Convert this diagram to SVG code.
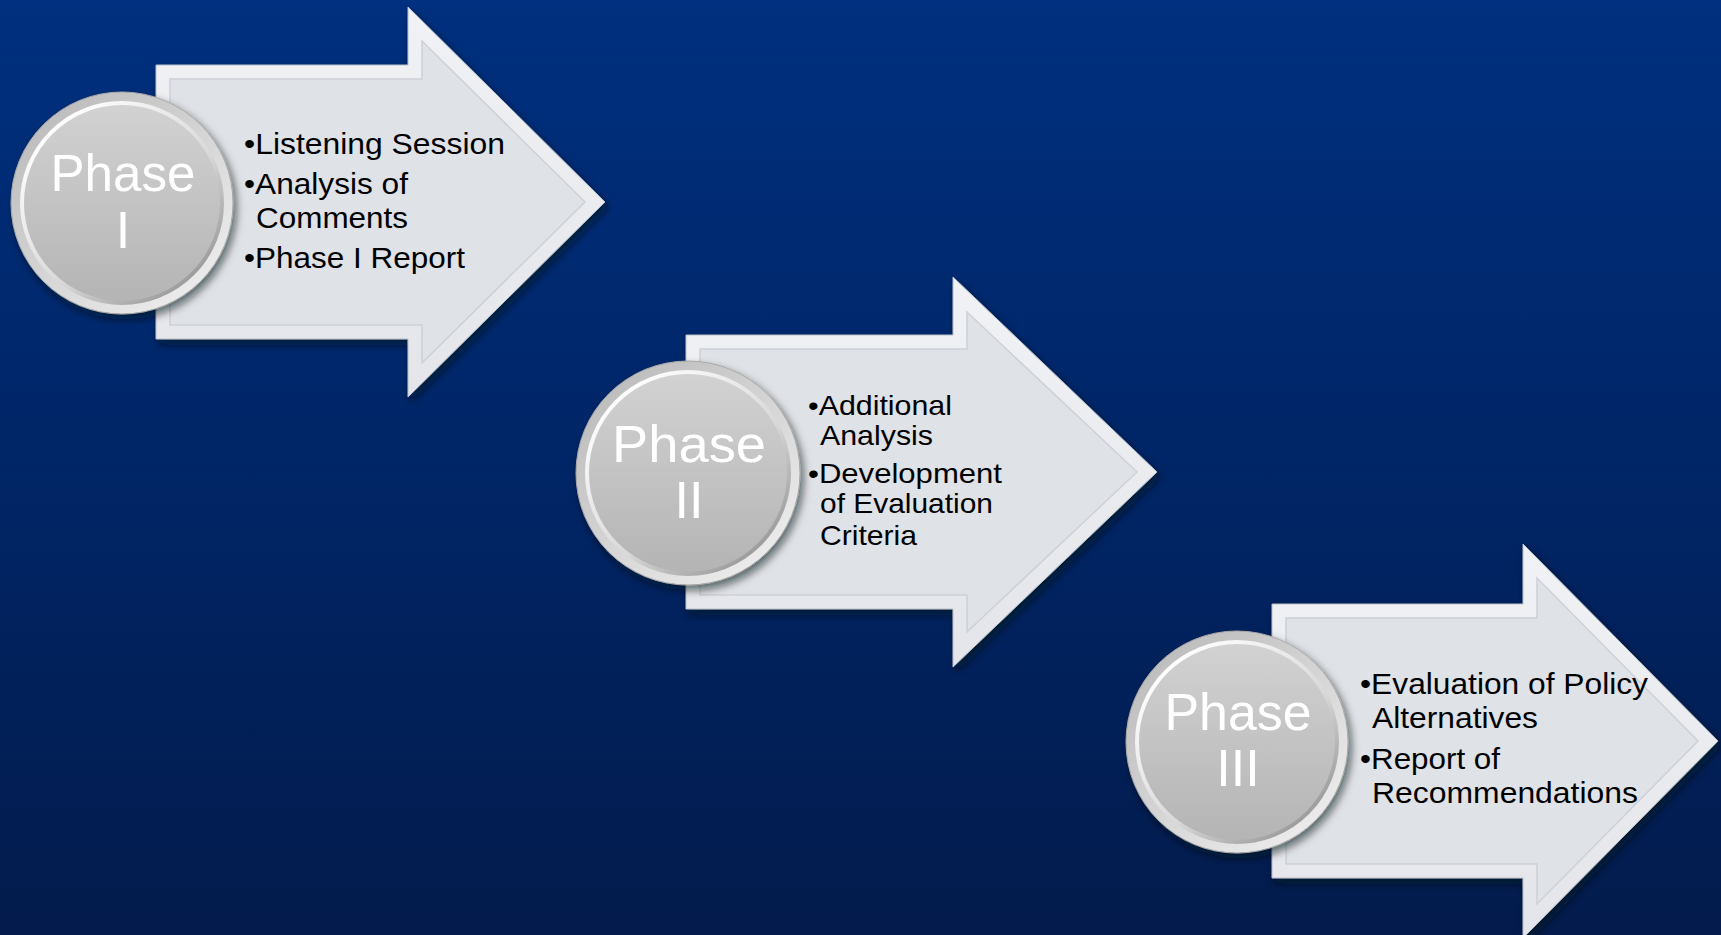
<svg xmlns="http://www.w3.org/2000/svg" width="1721" height="935" viewBox="0 0 1721 935">
  <defs>
    <linearGradient id="bg" x1="0" y1="0" x2="0" y2="1">
      <stop offset="0" stop-color="#00307f"/>
      <stop offset="0.5" stop-color="#002566"/>
      <stop offset="1" stop-color="#031b4c"/>
    </linearGradient>
    <linearGradient id="bevel" x1="0" y1="0" x2="0" y2="1">
      <stop offset="0" stop-color="#f1f2f5"/>
      <stop offset="1" stop-color="#e3e5ea"/>
    </linearGradient>
    <linearGradient id="rim" x1="0.15" y1="0.1" x2="0.85" y2="0.9">
      <stop offset="0" stop-color="#bdbdbd"/>
      <stop offset="1" stop-color="#ececec"/>
    </linearGradient>
    <linearGradient id="ring" x1="0.15" y1="0.1" x2="0.85" y2="0.9">
      <stop offset="0" stop-color="#ffffff"/>
      <stop offset="0.6" stop-color="#d8d8d8"/>
      <stop offset="1" stop-color="#9a9a9a"/>
    </linearGradient>
    <linearGradient id="face" x1="0" y1="0" x2="0" y2="1">
      <stop offset="0" stop-color="#d2d2d2"/>
      <stop offset="1" stop-color="#b4b4b4"/>
    </linearGradient>
    <filter id="shadow" x="-10%" y="-10%" width="125%" height="125%">
      <feDropShadow dx="3" dy="5" stdDeviation="4" flood-color="#000814" flood-opacity="0.6"/>
    </filter>
  </defs>
  <style>
    .outer { fill: url(#bevel); stroke: #b9bec7; stroke-width: 1; }
    .inner { fill: #dfe2e7; stroke: #cdd1d8; stroke-width: 1.5; }
    .rim { fill: url(#rim); stroke: #a8a8a8; stroke-width: 1; }
    .face { fill: url(#face); stroke: url(#ring); stroke-width: 4; }
    .phase { font-family: "Liberation Sans", Arial, sans-serif; font-size: 52px; fill: #ffffff; text-anchor: middle; }
    .item { font-family: "Liberation Sans", Arial, sans-serif; font-size: 30px; fill: #000000; }
    .item2 { font-family: "Liberation Sans", Arial, sans-serif; font-size: 28px; fill: #000000; }
  </style>

  <rect x="0" y="0" width="1721" height="935" fill="url(#bg)"/>

  <g id="connectors"></g>

  <g id="phase1">
    <g filter="url(#shadow)">
      <polygon class="outer" points="156,65 408,65 408,7 605,202 408,397 408,339 156,339"/>
    </g>
    <polygon class="inner" points="170,79 422,79 422,41 585,202 422,363 422,325 170,325"/>
    <g filter="url(#shadow)">
      <circle class="rim" cx="122" cy="203" r="111"/>
    </g>
    <circle class="face" cx="122" cy="203" r="100"/>
    <text class="phase" x="123" y="191" textLength="145" lengthAdjust="spacingAndGlyphs">Phase</text>
    <text class="phase" x="123" y="248">I</text>
    <text class="item" x="244" y="154" textLength="261" lengthAdjust="spacingAndGlyphs">•Listening Session</text>
    <text class="item" x="244" y="194" textLength="164" lengthAdjust="spacingAndGlyphs">•Analysis of</text>
    <text class="item" x="256" y="228" textLength="152" lengthAdjust="spacingAndGlyphs">Comments</text>
    <text class="item" x="244" y="268" textLength="221" lengthAdjust="spacingAndGlyphs">•Phase I Report</text>
  </g>

  <g id="phase2">
    <g filter="url(#shadow)">
      <polygon class="outer" points="686,335 953,335 953,277 1157,472 953,667 953,609 686,609"/>
    </g>
    <polygon class="inner" points="700,349 967,349 967,312 1137,472 967,632 967,595 700,595"/>
    <g filter="url(#shadow)">
      <circle class="rim" cx="688" cy="473" r="112"/>
    </g>
    <circle class="face" cx="688" cy="473" r="101"/>
    <text class="phase" x="689" y="462" textLength="154" lengthAdjust="spacingAndGlyphs">Phase</text>
    <text class="phase" x="689" y="518">II</text>
    <text class="item2" x="808" y="415" textLength="144" lengthAdjust="spacingAndGlyphs">•Additional</text>
    <text class="item2" x="820" y="445" textLength="113" lengthAdjust="spacingAndGlyphs">Analysis</text>
    <text class="item2" x="808" y="483" textLength="194" lengthAdjust="spacingAndGlyphs">•Development</text>
    <text class="item2" x="820" y="513" textLength="173" lengthAdjust="spacingAndGlyphs">of Evaluation</text>
    <text class="item2" x="820" y="545" textLength="97" lengthAdjust="spacingAndGlyphs">Criteria</text>
  </g>

  <g id="phase3">
    <g filter="url(#shadow)">
      <polygon class="outer" points="1272,604 1523,604 1523,544 1718,741 1523,938 1523,878 1272,878"/>
    </g>
    <polygon class="inner" points="1286,618 1537,618 1537,578 1698,741 1537,904 1537,864 1286,864"/>
    <g filter="url(#shadow)">
      <circle class="rim" cx="1237" cy="742" r="111"/>
    </g>
    <circle class="face" cx="1237" cy="742" r="100"/>
    <text class="phase" x="1238" y="730" textLength="147" lengthAdjust="spacingAndGlyphs">Phase</text>
    <text class="phase" x="1238" y="786">III</text>
    <text class="item" x="1360" y="694" textLength="288" lengthAdjust="spacingAndGlyphs">•Evaluation of Policy</text>
    <text class="item" x="1372" y="728" textLength="166" lengthAdjust="spacingAndGlyphs">Alternatives</text>
    <text class="item" x="1360" y="769" textLength="140" lengthAdjust="spacingAndGlyphs">•Report of</text>
    <text class="item" x="1372" y="803" textLength="266" lengthAdjust="spacingAndGlyphs">Recommendations</text>
  </g>
</svg>
